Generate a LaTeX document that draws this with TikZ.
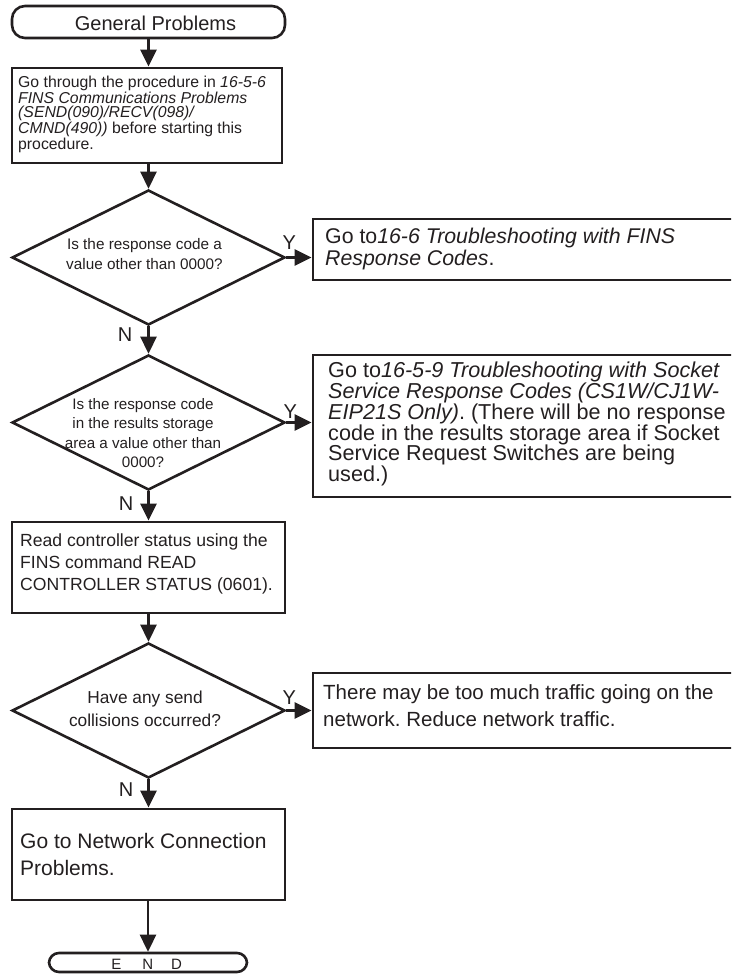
\documentclass[tikz,border=0pt]{standalone}
\usepackage{fontspec}
\setmainfont{Liberation Sans}
\usetikzlibrary{shapes.geometric,arrows.meta}
\definecolor{ink}{HTML}{231F20}
\frenchspacing
\begin{document}
\begin{tikzpicture}[x=1pt,y=-1pt,
  every node/.style={text=ink},
  box/.style={draw=ink, line width=2.9pt, rectangle, inner sep=0pt},
  term/.style={draw=ink, line width=2.6pt, rectangle, rounded corners=13pt, inner sep=0pt},
  dia/.style={draw=ink, line width=2.6pt, diamond, inner sep=0pt, minimum width=273pt, minimum height=135pt},
  txt/.style={inner sep=0pt, anchor=west, align=left},
  ctxt/.style={inner sep=0pt, anchor=center, align=center},
  arr/.style={draw=ink, line width=2.6pt, -{Triangle[length=17pt,width=16pt]}},
  yn/.style={font=\fontsize{20}{20}\selectfont, inner sep=0pt},
]
\useasboundingbox (0,0) rectangle (731,974);
\clip (0,0) rectangle (731,974);

% start terminal
\node[term, minimum width=273pt, minimum height=32pt] (start) at (148.5,22) {};
\node[inner sep=0pt, anchor=base, font=\fontsize{20}{20}\selectfont] (startt) at (155.5,31) {General Problems};

% box 1
\node[box, minimum width=270pt, minimum height=95pt] (b1) at (147,115.5) {};
\node[txt, font=\fontsize{15.8}{14.5}\selectfont] (b1t) at (18,114.5)
  {Go through the procedure in \textit{16-5-6}\\
   \textit{FINS Communications Problems}\\
   \textit{(SEND(090)/RECV(098)/}\\
   \textit{CMND(490))} before starting this\\
   procedure.};

% diamond 1
\node[dia] (d1) at (148.5,257.5) {};
\node[ctxt, font=\fontsize{15.3}{20}\selectfont] (d1t) at (144.5,254)
  {Is the response code a\\ value other than 0000?};

% box 2
\node[box, minimum width=460pt, minimum height=61pt] (b2) at (543,249.5) {};
\node[txt, font=\fontsize{21.3}{21.5}\selectfont] (b2t) at (325,249)
  {Go to\textit{16-6 Troubleshooting with FINS}\\
   \textit{Response Codes}.};

% diamond 2
\node[dia] (d2) at (148.5,422.5) {};
\node[ctxt, font=\fontsize{15.2}{19.5}\selectfont] (d2t) at (143,433)
  {Is the response code\\ in the results storage\\ area a value other than\\ 0000?};

% box 3
\node[box, minimum width=460pt, minimum height=142pt] (b3) at (543,426) {};
\node[txt, font=\fontsize{21.6}{20.9}\selectfont] (b3t) at (328,424)
  {Go to\textit{16-5-9 Troubleshooting with Socket}\\
   \textit{Service Response Codes (CS1W/CJ1W-}\\
   \textit{EIP21S Only)}. (There will be no response\\
   code in the results storage area if Socket\\
   Service Request Switches are being\\
   used.)};

% box 4
\node[box, minimum width=273pt, minimum height=91pt] (b4) at (148.5,567.5) {};
\node[txt, font=\fontsize{17.6}{21.8}\selectfont] (b4t) at (20,564)
  {Read controller status using the\\
   FINS command READ\\
   CONTROLLER STATUS (0601).};

% diamond 3
\node[dia] (d3) at (148.5,710.5) {};
\node[ctxt, font=\fontsize{17.3}{23}\selectfont] (d3t) at (145,709)
  {Have any send\\ collisions occurred?};

% box 5
\node[box, minimum width=460pt, minimum height=75pt] (b5) at (543,710.5) {};
\node[txt, font=\fontsize{20.5}{26.7}\selectfont] (b5t) at (323,706)
  {There may be too much traffic going on the\\
   network. Reduce network traffic.};

% box 6
\node[box, minimum width=273pt, minimum height=91pt] (b6) at (148.5,854.5) {};
\node[txt, font=\fontsize{21}{26.5}\selectfont] (b6t) at (20,854.5)
  {Go to Network Connection\\ Problems.};

% end terminal
\node[term, rounded corners=10pt, minimum width=198pt, minimum height=19pt] (end) at (148,962.5) {};
\node[inner sep=0pt, anchor=base, font=\fontsize{15}{15}\selectfont] (endt) at (146.7,969)
  {E\hspace{21pt}N\hspace{18pt}D};

% connectors
\draw[arr] (start.south) -- (start.south |- b1.north);
\draw[arr] (d1.north |- b1.south) -- (d1.north);
\draw[arr] (d1.east) -- (d1.east -| b2.west);
\draw[arr] (d1.south) -- (d2.north);
\draw[arr] (d2.east) -- (d2.east -| b3.west);
\draw[arr] (d2.south) -- (b4.north);
\draw[arr] (b4.south) -- (d3.north);
\draw[arr] (d3.east) -- (d3.east -| b5.west);
\draw[arr] (d3.south) -- (b6.north);
\draw[arr] (end.north |- b6.south) -- (end.north);

% labels
\node[yn] (y1) at ([xshift=3pt,yshift=14.5pt]d1.east) {Y};
\node[yn] (y2) at ([xshift=4pt,yshift=11pt]d2.east) {Y};
\node[yn] (y3) at ([xshift=3pt,yshift=13pt]d3.east) {Y};
\node[yn] (n1) at ([xshift=-23.5pt,yshift=-8pt]d1.south) {N};
\node[yn] (n2) at ([xshift=-22.5pt,yshift=-12pt]d2.south) {N};
\node[yn] (n3) at ([xshift=-22.5pt,yshift=-10pt]d3.south) {N};
\end{tikzpicture}
\end{document}
